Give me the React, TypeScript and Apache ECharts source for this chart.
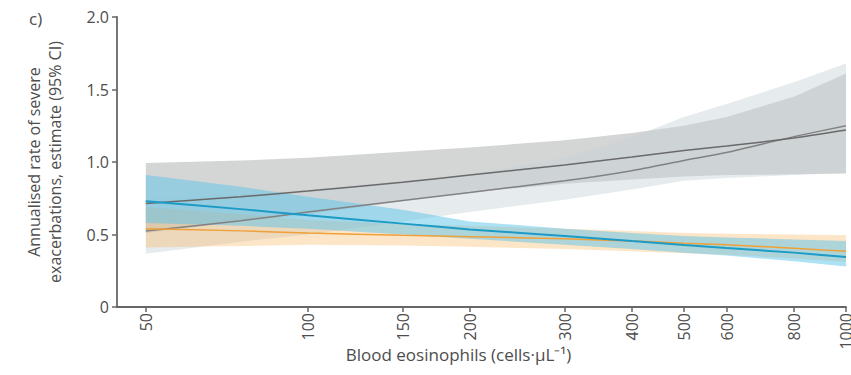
import React, { useEffect, useRef } from "react";
import * as echarts from "echarts";

// Blood eosinophils (cells/µL) at which values were read
const eos = [50, 75, 100, 150, 200, 300, 400, 500, 600, 800, 1000];
const xTicks = [50, 100, 150, 200, 300, 400, 500, 600, 800, 1000];
const yTicks = [0, 0.5, 1.0, 1.5, 2.0];

// Dark grey model
const greyAEst = [0.713, 0.76, 0.8, 0.86, 0.91, 0.98, 1.035, 1.08, 1.11, 1.165, 1.22];
const greyALo = [0.51, 0.59, 0.64, 0.73, 0.79, 0.85, 0.88, 0.9, 0.91, 0.915, 0.92];
const greyAUp = [0.993, 1.01, 1.03, 1.07, 1.1, 1.15, 1.2, 1.25, 1.31, 1.45, 1.61];
// Light grey model
const greyBEst = [0.524, 0.595, 0.655, 0.735, 0.79, 0.87, 0.94, 1.01, 1.065, 1.175, 1.25];
const greyBLo = [0.368, 0.45, 0.5, 0.59, 0.655, 0.74, 0.81, 0.87, 0.89, 0.91, 0.925];
const greyBUp = [0.745, 0.78, 0.81, 0.87, 0.91, 1.03, 1.17, 1.31, 1.4, 1.55, 1.68];
// Blue model
const blueEst = [0.73, 0.675, 0.632, 0.575, 0.535, 0.49, 0.455, 0.428, 0.407, 0.375, 0.345];
const blueLo = [0.58, 0.56, 0.54, 0.5, 0.47, 0.43, 0.4, 0.375, 0.355, 0.315, 0.28];
const blueUp = [0.91, 0.83, 0.76, 0.67, 0.59, 0.54, 0.51, 0.49, 0.48, 0.465, 0.455];
// Orange model
const orangeEst = [0.54, 0.525, 0.51, 0.495, 0.485, 0.47, 0.455, 0.44, 0.43, 0.405, 0.385];
const orangeLo = [0.41, 0.42, 0.43, 0.425, 0.415, 0.4, 0.385, 0.37, 0.36, 0.335, 0.31];
const orangeUp = [0.69, 0.64, 0.6, 0.57, 0.56, 0.54, 0.525, 0.51, 0.505, 0.5, 0.495];

const FONT = "Open Sans";
const TEXT = "#4d4d4d";

function pairs(vals: number[]) {
  return eos.map((x, i) => [x, vals[i]]);
}

function band(id: string, lo: number[], up: number[], color: string, opacity: number) {
  return {
    type: "custom",
    name: id,
    coordinateSystem: "cartesian2d",
    silent: true,
    data: pairs(lo),
    encode: { x: 0, y: 1 },
    renderItem: (params: any, api: any) => {
      if (params.dataIndex !== 0) return null;
      const top = eos.map((x, i) => api.coord([x, up[i]]));
      const bottom = eos.map((x, i) => api.coord([x, lo[i]])).reverse();
      return {
        type: "polygon",
        shape: { points: top.concat(bottom) },
        style: { fill: color, opacity },
      };
    },
  };
}

function line(id: string, vals: number[], color: string, width: number) {
  return {
    type: "line",
    name: id,
    data: pairs(vals),
    symbol: "none",
    smooth: 0.2,
    lineStyle: { color, width },
    silent: true,
    z: 5,
  };
}

export default function App() {
  const ref = useRef<HTMLDivElement>(null);
  useEffect(() => {
    if (!ref.current) return;
    const chart = echarts.init(ref.current, undefined, { renderer: "svg" });
    chart.setOption({
      animation: false,
      backgroundColor: "#ffffff",
      title: {
        text: "c)",
        left: 24,
        top: 5,
        textStyle: { fontFamily: FONT, fontSize: 17, fontWeight: "normal", color: TEXT },
      },
      grid: { left: 117, right: 5, top: 17, bottom: 68, outerBoundsMode: "none", containLabel: false },
      xAxis: {
        type: "log",
        logBase: 10,
        min: 44.2,
        max: 1000,
        name: "Blood eosinophils (cells·µL\u207B\u00B9)",
        nameLocation: "middle",
        nameGap: 39,
        nameMoveOverlap: false,
        nameTextStyle: {
          fontFamily: FONT,
          fontSize: 17,
          color: TEXT,
          verticalAlign: "top",
          padding: [0, 46, 0, 0],
        },
        axisLine: { show: true, lineStyle: { color: "#666", width: 1.8 } },
        axisTick: { show: true, length: 5, lineStyle: { color: "#666", width: 1.5 }, customValues: xTicks },
        axisLabel: {
          rotate: 90,
          fontFamily: FONT,
          fontSize: 16,
          color: TEXT,
          margin: 6,
          customValues: xTicks,
          formatter: (v: number) => String(Math.round(v)),
        },
        splitLine: { show: false },
        minorTick: { show: false },
      },
      yAxis: {
        type: "value",
        min: 0,
        max: 2,
        interval: 0.5,
        name: "Annualised rate of severe\nexacerbations, estimate (95% CI)",
        nameLocation: "middle",
        nameGap: 52,
        nameMoveOverlap: false,
        nameTextStyle: { fontFamily: FONT, fontSize: 16, lineHeight: 21, color: TEXT },
        axisLine: { show: true, lineStyle: { color: "#666", width: 1.8 } },
        axisTick: { show: true, length: 5, lineStyle: { color: "#666", width: 1.5 } },
        axisLabel: {
          fontFamily: FONT,
          fontSize: 16,
          color: TEXT,
          margin: 8,
          formatter: (v: number) => (v === 0 ? "0" : yTicks.includes(v) ? v.toFixed(1) : ""),
        },
        splitLine: { show: false },
      },
      series: [
        band("gA", greyALo, greyAUp, "#b0b2b3", 0.55),
        band("gB", greyBLo, greyBUp, "#c8d2d6", 0.45),
        band("or", orangeLo, orangeUp, "#f8b460", 0.35),
        band("bl", blueLo, blueUp, "#5cc3ea", 0.5),
        line("greyB", greyBEst, "#828282", 1.5),
        line("greyA", greyAEst, "#6a6a6a", 1.5),
        line("orange", orangeEst, "#eea13a", 1.5),
        line("blue", blueEst, "#1b9bc6", 2),
      ],
    });
    return () => chart.dispose();
  }, []);
  return (
    <div
      ref={ref}
      style={{ position: "absolute", left: 0, top: 0, width: 851, height: 375 }}
    />
  );
}
